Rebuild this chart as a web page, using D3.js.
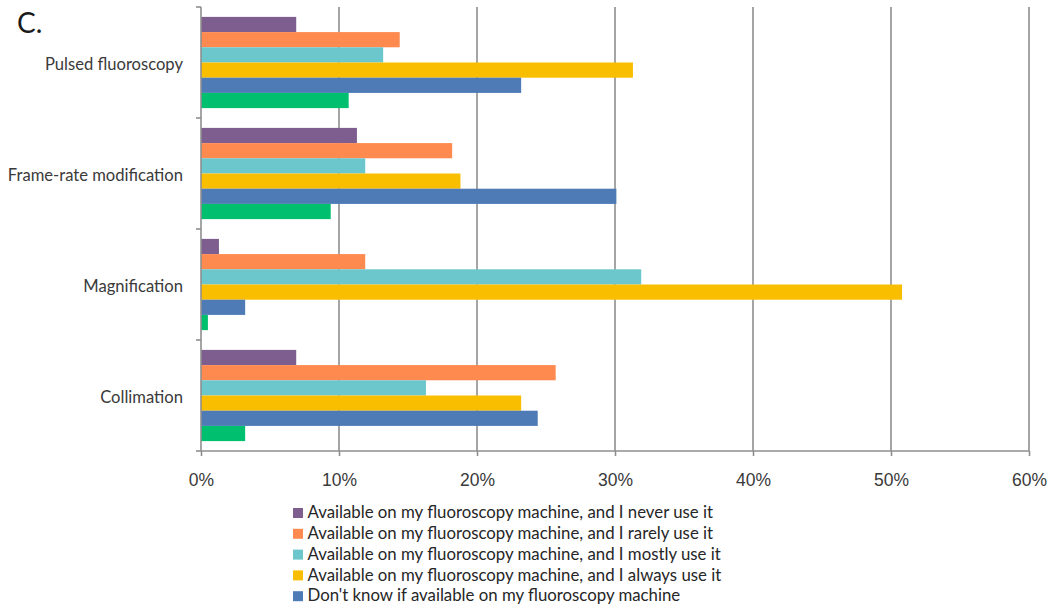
<!DOCTYPE html>
<html>
<head>
<meta charset="utf-8">
<script src="https://cdn.jsdelivr.net/npm/d3@7"></script>
<style>
  html, body { margin: 0; padding: 0; background: #fff; }
  svg { display: block; }
</style>
</head>
<body>
<svg id="chart" width="1050" height="611"></svg>
<script>
const categories = ["Pulsed fluoroscopy", "Frame-rate modification", "Magnification", "Collimation"];
const seriesNames = [
  "Available on my fluoroscopy machine, and I never use it",
  "Available on my fluoroscopy machine, and I rarely use it",
  "Available on my fluoroscopy machine, and I mostly use it",
  "Available on my fluoroscopy machine, and I always use it",
  "Don't know if available on my fluoroscopy machine",
  "Not available on my fluoroscopy machine"
];
const seriesColors = ["#7E5E8E", "#FF8A50", "#6BC7CB", "#FABE00", "#4E7BB6", "#00BF6F"];
// values in %, per series, in category order
const neverUse   = [6.9, 11.3, 1.3, 6.9];
const rarelyUse  = [14.4, 18.2, 11.9, 25.7];
const mostlyUse  = [13.2, 11.9, 31.9, 16.3];
const alwaysUse  = [31.3, 18.8, 50.8, 23.2];
const dontKnow   = [23.2, 30.1, 3.2, 24.4];
const notAvail   = [10.7, 9.4, 0.5, 3.2];
const seriesValues = [neverUse, rarelyUse, mostlyUse, alwaysUse, dontKnow, notAvail];
const xTicks = [0, 10, 20, 30, 40, 50, 60];
const legendCount = 5; // legend shows first five series

const svg = d3.select("#chart");
const mLeft = 201, mRight = 1029, mTop = 7, mBottom = 451;
const gridColor = "#8f8f8f";
const textColor = "#3a3a3a";

const x = d3.scaleLinear().domain([0, 60]).range([mLeft, mRight]);
const y = d3.scaleBand().domain(categories).range([mTop, mBottom]).paddingInner(0).paddingOuter(0);
const ys = d3.scaleBand().domain(d3.range(seriesNames.length)).range([0, y.bandwidth()])
  .paddingInner(0).paddingOuter(0.65);

// vertical gridlines
svg.append("g").selectAll("line").data(xTicks.filter(d => d > 0)).join("line")
  .attr("x1", d => x(d)).attr("x2", d => x(d))
  .attr("y1", mTop).attr("y2", mBottom)
  .attr("stroke", gridColor).attr("stroke-width", 1.6);

// bars
const data = [];
categories.forEach((c, ci) => seriesValues.forEach((vals, si) => data.push({c, si, v: vals[ci]})));
svg.append("g").selectAll("rect").data(data).join("rect")
  .attr("x", x(0))
  .attr("y", d => y(d.c) + ys(d.si))
  .attr("width", d => x(d.v) - x(0))
  .attr("height", ys.bandwidth())
  .attr("fill", d => seriesColors[d.si]);

// x axis
const xAxis = d3.axisBottom(x).tickValues(xTicks).tickFormat(d => d + "%").tickSize(5).tickPadding(19);
const gx = svg.append("g").attr("transform", `translate(0,${mBottom})`).call(xAxis);
gx.attr("font-family", null).attr("font-size", null);
gx.select(".domain").attr("stroke", gridColor).attr("stroke-width", 1.6).attr("d", `M${mLeft},0H${mRight}`);
gx.selectAll(".tick line").attr("stroke", gridColor).attr("stroke-width", 1.6);
gx.selectAll(".tick text").attr("fill", textColor).attr("dy", "0.6em")
  .style("font-family", "'Liberation Sans', Arial, sans-serif").style("font-size", "17.5px");

// y axis line and boundary ticks
svg.append("line").attr("x1", mLeft).attr("x2", mLeft).attr("y1", mTop).attr("y2", mBottom)
  .attr("stroke", gridColor).attr("stroke-width", 1.6);
const bounds = categories.map(c => y(c)).concat([mBottom]);
svg.append("g").selectAll("line").data(bounds).join("line")
  .attr("x1", mLeft - 5).attr("x2", mLeft).attr("y1", d => d).attr("y2", d => d)
  .attr("stroke", gridColor).attr("stroke-width", 1.6);

// category labels
svg.append("g").selectAll("text").data(categories).join("text")
  .attr("x", 183).attr("y", d => y(d) + y.bandwidth() / 2 + 3)
  .attr("text-anchor", "end").attr("dominant-baseline", "middle")
  .attr("fill", textColor)
  .style("font-family", "Lato, 'Open Sans', sans-serif").style("font-size", "16.6px")
  .text(d => d);

// panel label
svg.append("text").attr("x", 17).attr("y", 33).text("C.")
  .attr("fill", "#1a1a1a")
  .style("font-family", "Lato, 'Open Sans', sans-serif").style("font-size", "28px");

// legend
const lg = svg.append("g").attr("transform", "translate(293,513)");
const items = lg.selectAll("g").data(seriesNames.slice(0, legendCount)).join("g")
  .attr("transform", (d, i) => `translate(0,${i * 20.8})`);
items.append("rect").attr("x", 0).attr("y", -5).attr("width", 10).attr("height", 10)
  .attr("fill", (d, i) => seriesColors[i]);
items.append("text").attr("x", 14.5).attr("y", 1).attr("dominant-baseline", "middle")
  .attr("fill", "#262626")
  .style("font-family", "Lato, 'Open Sans', sans-serif").style("font-size", "16.8px")
  .text(d => d);
</script>
</body>
</html>
